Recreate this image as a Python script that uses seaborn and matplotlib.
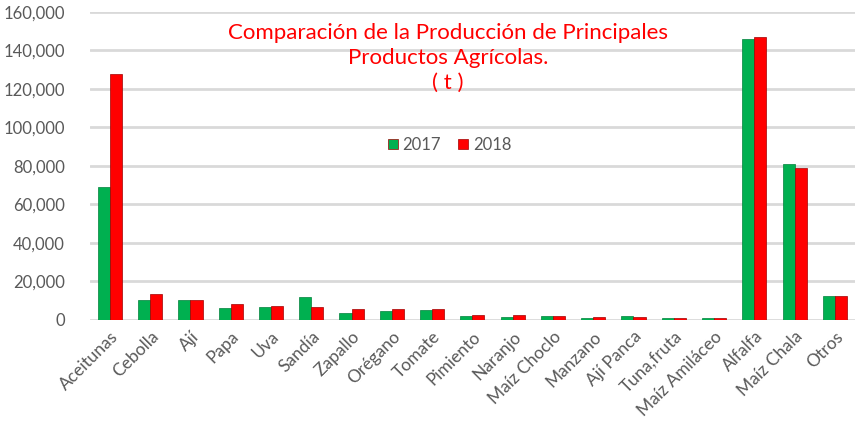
import pandas as pd
import numpy as np
import matplotlib
matplotlib.use("Agg")
import matplotlib.pyplot as plt
import seaborn as sns
from matplotlib.ticker import FuncFormatter

# ==========================
# Data (t)
# ==========================

productos = ['Aceitunas', 'Cebolla', 'Ají', 'Papa', 'Uva', 'Sandía', 'Zapallo',
             'Orégano', 'Tomate', 'Pimiento', 'Naranjo', 'Maíz Choclo', 'Manzano',
             'Ají Panca', 'Tuna,fruta', 'Maíz Amiláceo', 'Alfalfa', 'Maíz Chala', 'Otros']

prod_2017 = [69000, 10500, 10300, 6200, 6500, 11800, 3700, 4500, 5200, 2200,
             1300, 2100, 1100, 2000, 1000, 900, 146000, 81000, 12500]

prod_2018 = [128000, 13500, 10600, 8200, 7500, 6500, 5700, 5700, 5600, 2800,
             2600, 1800, 1500, 1300, 1200, 1100, 147000, 79000, 12200]

df = pd.DataFrame({'Producto': productos, '2017': prod_2017, '2018': prod_2018})
df = df.melt(id_vars='Producto', var_name='Año', value_name='Produccion')

sns.set_style('white')
plt.rcParams['font.family'] = ['Lato', 'DejaVu Sans']

fig = plt.figure(figsize=(8.55, 4.21), dpi=100)
ax = fig.add_axes([0.105, 0.24, 0.895, 0.7316])

sns.barplot(
    data=df,
    x='Producto',
    y='Produccion',
    hue='Año',
    palette={'2017': '#00B050', '2018': '#FF0000'},
    saturation=1,
    width=0.6,
    edgecolor='#a00000',
    linewidth=0.5,
    ax=ax
)

# darker edge for green bars
for bar in ax.containers[0]:
    bar.set_edgecolor('#00803a')

ax.set_ylim(0, 160000)
ax.set_xlim(-0.5, 18.5)
ax.set_yticks(np.arange(0, 160001, 20000))
ax.yaxis.set_major_formatter(FuncFormatter(lambda v, p: f'{int(v):,}'))
ax.grid(axis='y', color='#d9d9d9', linewidth=2)
ax.set_axisbelow(True)
sns.despine(ax=ax, left=True, bottom=True)

ax.set_xlabel('')
ax.set_ylabel('')
ax.tick_params(axis='y', labelsize=12, colors='#595959', length=0, pad=18)
ax.tick_params(axis='x', labelsize=12.5, colors='#595959', length=0, pad=6)
plt.setp(ax.get_xticklabels(), rotation=45, ha='right', rotation_mode='anchor')

ax.legend(
    loc='center',
    bbox_to_anchor=(0.47, 0.568),
    ncol=2,
    frameon=False,
    fontsize=12,
    labelcolor='#595959',
    handlelength=0.6,
    handleheight=0.6,
    handletextpad=0.3,
    columnspacing=1.0
)

fig.text(
    0.524, 0.945,
    'Comparación de la Producción de Principales\nProductos Agrícolas.\n( t )',
    color='#FF0000',
    fontsize=16,
    ha='center',
    va='top',
    multialignment='center',
    linespacing=1.3
)

fig.savefig('out.png', dpi=100)
